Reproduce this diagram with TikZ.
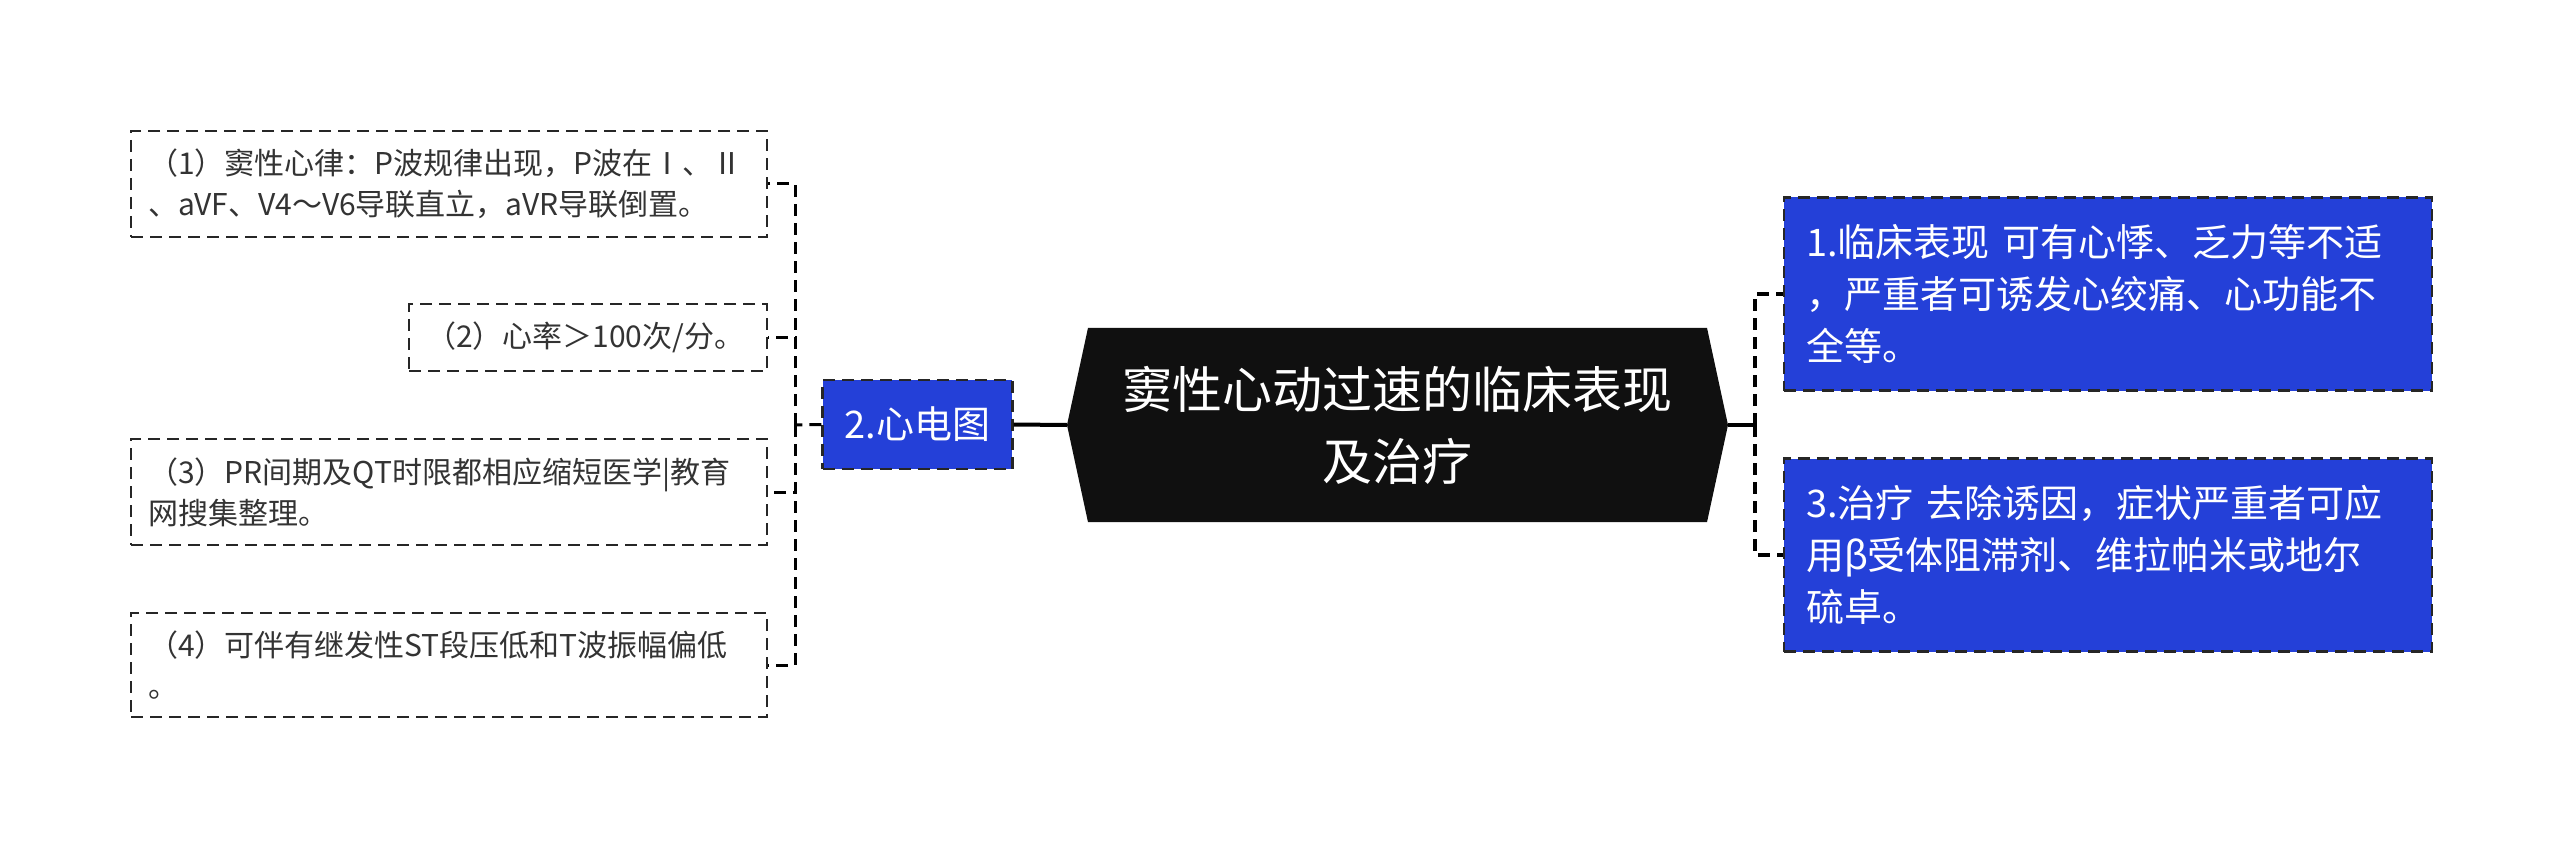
\documentclass[tikz,border=0pt]{standalone}
\usepackage{fontspec}
\setmainfont{Noto Sans CJK SC}
\usepackage{tikz}
\usetikzlibrary{shapes.symbols}
\definecolor{topicblue}{RGB}{36,64,216}
\definecolor{rootblack}{RGB}{16,16,16}
\definecolor{leafgray}{RGB}{51,51,51}

\begin{document}
\begin{tikzpicture}[x=1pt,y=-1pt,
        root/.style={shape=signal, signal to=west and east, signal pointer angle=155.6,
            fill=rootblack, text=white, font=\fontsize{50}{72}\selectfont, align=center,
            minimum width=661pt, minimum height=194pt, inner sep=0pt},
        topic/.style={fill=topicblue, draw=black!85, dash pattern=on 12pt off 7pt, line width=2.5pt,
            text=white, font=\fontsize{38}{52}\selectfont, align=left, inner xsep=22pt, inner ysep=0pt},
        leaf/.style={draw=black!85, dash pattern=on 12pt off 7pt, line width=2.2pt, text=leafgray,
            font=\fontsize{30}{41}\selectfont, align=left, inner xsep=17pt, inner ysep=0pt},
        trunk/.style={line width=4pt, black},
        branch/.style={line width=3pt, black, dash pattern=on 12pt off 7pt}]
        \useasboundingbox (0,0) rectangle (2560,850);
        % centre
        \node[root] (root) at (1397.5,425) {窦性心动过速的临床表现\\及治疗};
        % left side
        \node[topic, align=center, minimum width=187pt, minimum height=89pt] (ecg) at (917.5,424.5) {2.心电图};
        \node[leaf, text width=602pt, minimum height=106pt] (b1) at (449,184) {（1）窦性心律：P波规律出现，P波在Ⅰ、Ⅱ\\、aVF、V4～V6导联直立，aVR导联倒置。};
        \node[leaf, text width=324pt, minimum height=67pt] (b2) at (588,337.5) {（2）心率＞100次/分。};
        \node[leaf, text width=602pt, minimum height=106pt] (b3) at (449,492) {（3）PR间期及QT时限都相应缩短医学|教育\\网搜集整理。};
        \node[leaf, text width=602pt, minimum height=104pt] (b4) at (449,665) {（4）可伴有继发性ST段压低和T波振幅偏低\\。};
        % right side
        \node[topic, text width=604pt, minimum height=193pt] (r1) at (2108,294) {1.临床表现 可有心悸、乏力等不适\\，严重者可诱发心绞痛、心功能不\\全等。};
        \node[topic, text width=604pt, minimum height=193pt] (r3) at (2108,555) {3.治疗 去除诱因，症状严重者可应\\用β受体阻滞剂、维拉帕米或地尔\\硫卓。};
        \coordinate (lj) at (795,425);
        \coordinate (rj) at (1755,425);
        \draw[trunk] (root.west) -- (ecg.east);
        \draw[branch] (ecg.west) -- (lj);
        \foreach \n in {b1,b2,b3,b4}
            \draw[branch] (lj) |- (\n.east);
        \draw[trunk] (root.east) -- (rj);
        \foreach \n in {r1,r3}
            \draw[branch, line width=4pt] (rj) |- (\n.west);
    \end{tikzpicture}
\end{document}
